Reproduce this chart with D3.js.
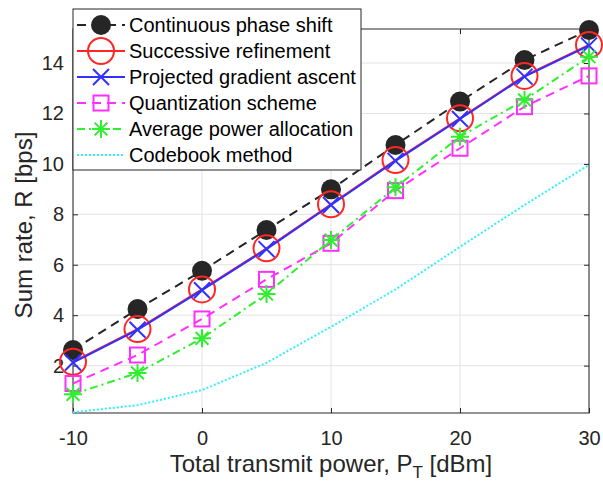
<!DOCTYPE html>
<html>
<head>
<meta charset="utf-8">
<script src="https://cdn.jsdelivr.net/npm/d3@7"></script>
<style>
  body { margin: 0; background: #fff; }
  svg { font-family: "Liberation Sans", Arial, sans-serif; }
</style>
</head>
<body>
<svg id="chart" width="603" height="482"></svg>
<script>
// data
var powerDbm = [-10, -5, 0, 5, 10, 15, 20, 25, 30];
var continuousPhase = [2.62, 4.24, 5.76, 7.38, 8.99, 10.75, 12.47, 14.12, 15.31];
var successiveRefinement = [2.15, 3.45, 5.02, 6.65, 8.40, 10.15, 11.81, 13.49, 14.72];
var projectedGradient = [2.12, 3.42, 4.99, 6.62, 8.37, 10.12, 11.78, 13.46, 14.69];
var quantizationScheme = [1.29, 2.42, 3.85, 5.42, 6.85, 8.94, 10.62, 12.27, 13.49];
var averagePower = [0.86, 1.71, 3.08, 4.84, 6.98, 9.07, 11.08, 12.54, 14.25];
var codebookMethod = [0.15, 0.43, 1.03, 2.11, 3.54, 5.02, 6.71, 8.37, 9.96];

var xTicks = [-10, 0, 10, 20, 30];
var yTicks = [2, 4, 6, 8, 10, 12, 14];

var seriesNames = ["Continuous phase shift", "Successive refinement", "Projected gradient ascent",
    "Quantization scheme", "Average power allocation", "Codebook method"];

var series = [
    {name: seriesNames[0], values: continuousPhase, color: "#262626", dash: "9,6", marker: "dot"},
    {name: seriesNames[1], values: successiveRefinement, color: "#ff2626", dash: null, marker: "circle"},
    {name: seriesNames[2], values: projectedGradient, color: "#3030ff", dash: null, marker: "x"},
    {name: seriesNames[3], values: quantizationScheme, color: "#ff30ff", dash: "9,6", marker: "square"},
    {name: seriesNames[4], values: averagePower, color: "#30ee30", dash: "8,4,2,4", marker: "star"},
    {name: seriesNames[5], values: codebookMethod, color: "#30f0ff", dash: "2,2", marker: null}
];

var svg = d3.select("#chart");
var margin = {top: 29, right: 14, bottom: 69, left: 73};
var width = 603 - margin.left - margin.right;
var height = 482 - margin.top - margin.bottom;
var axisColor = "#262626";

var x = d3.scaleLinear().domain([-10, 30]).range([0, width]);
var y = d3.scaleLinear().domain([0.12, 15.35]).range([height, 0]);

var g = svg.append("g").attr("transform", "translate(" + margin.left + "," + margin.top + ")");

// grid
g.selectAll(".vgrid").data(xTicks).enter().append("line")
    .attr("x1", d => x(d)).attr("x2", d => x(d))
    .attr("y1", 0).attr("y2", height)
    .attr("stroke", "#e3e3e3").attr("stroke-width", 1);
g.selectAll(".hgrid").data(yTicks).enter().append("line")
    .attr("x1", 0).attr("x2", width)
    .attr("y1", d => y(d)).attr("y2", d => y(d))
    .attr("stroke", "#e3e3e3").attr("stroke-width", 1);

// axes (ticks inside, MATLAB style)
function styleAxis(sel) {
    sel.select(".domain").remove();
    sel.selectAll(".tick line").attr("stroke", axisColor);
    sel.selectAll(".tick text").attr("fill", axisColor).style("font-size", "20px");
}
var plainFmt = d => String(d); // hyphen minus like the original
g.append("g").attr("transform", "translate(0," + height + ")")
    .call(d3.axisBottom(x).tickValues(xTicks).tickSizeInner(-5).tickPadding(18).tickFormat(plainFmt))
    .call(styleAxis);
g.append("g")
    .call(d3.axisTop(x).tickValues(xTicks).tickSizeInner(-5).tickFormat(""))
    .call(styleAxis);
g.append("g")
    .call(d3.axisLeft(y).tickValues(yTicks).tickSizeInner(-5).tickPadding(9).tickFormat(plainFmt))
    .call(styleAxis);
g.append("g").attr("transform", "translate(" + width + ",0)")
    .call(d3.axisRight(y).tickValues(yTicks).tickSizeInner(-5).tickFormat(""))
    .call(styleAxis);

g.append("rect").attr("width", width).attr("height", height)
    .attr("fill", "none").attr("stroke", axisColor).attr("stroke-width", 1);

function drawMarker(sel, type, color) {
    if (type === "dot") {
        sel.append("circle").attr("r", 10).attr("fill", color);
    } else if (type === "circle") {
        sel.append("circle").attr("r", 13).attr("fill", "none").attr("stroke", color).attr("stroke-width", 2);
    } else if (type === "x") {
        sel.append("path").attr("d", "M-8,-8L8,8M-8,8L8,-8").attr("stroke", color).attr("stroke-width", 2);
    } else if (type === "square") {
        sel.append("rect").attr("x", -7.5).attr("y", -7.5).attr("width", 15).attr("height", 15)
            .attr("fill", "none").attr("stroke", color).attr("stroke-width", 2);
    } else if (type === "star") {
        sel.append("path")
            .attr("d", "M-9,0L9,0M0,-9L0,9M-6.4,-6.4L6.4,6.4M-6.4,6.4L6.4,-6.4")
            .attr("stroke", color).attr("stroke-width", 2);
    }
}

var line = d3.line().x((d, i) => x(powerDbm[i])).y(d => y(d));

series.forEach(function (s) {
    var sg = g.append("g");
    sg.append("path").datum(s.values)
        .attr("d", line)
        .attr("fill", "none")
        .attr("stroke", s.color)
        .attr("stroke-width", 2)
        .attr("stroke-dasharray", s.dash);
    if (s.marker) {
        sg.selectAll(".mk").data(s.values).enter().append("g")
            .attr("transform", (d, i) => "translate(" + x(powerDbm[i]) + "," + y(d) + ")")
            .each(function () { drawMarker(d3.select(this), s.marker, s.color); });
    }
});

// legend
var legend = svg.append("g").attr("transform", "translate(73,9)");
legend.append("rect").attr("width", 288).attr("height", 161)
    .attr("fill", "#fff").attr("stroke", axisColor).attr("stroke-width", 1);
series.forEach(function (s, i) {
    var row = legend.append("g").attr("transform", "translate(0," + (16 + i * 26) + ")");
    row.append("line").attr("x1", 4).attr("x2", 52)
        .attr("stroke", s.color).attr("stroke-width", 2)
        .attr("stroke-dasharray", s.dash);
    if (s.marker) {
        var m = row.append("g").attr("transform", "translate(28,0)");
        drawMarker(m, s.marker, s.color);
    }
    row.append("text").attr("x", 56).attr("y", 0).attr("dy", "0.35em")
        .attr("fill", "#000").style("font-size", "20px").text(s.name);
});

// axis labels
var xLabel = svg.append("text")
    .attr("x", margin.left + width / 2).attr("y", 472)
    .attr("text-anchor", "middle").attr("fill", axisColor).style("font-size", "24px");
xLabel.append("tspan").text("Total transmit power, P");
xLabel.append("tspan").attr("dy", 6).style("font-size", "17px").text("T");
xLabel.append("tspan").attr("dy", -6).text(" [dBm]");

svg.append("text")
    .attr("transform", "translate(32," + 225 + ") rotate(-90)")
    .attr("text-anchor", "middle").attr("fill", axisColor).style("font-size", "24px")
    .text("Sum rate, R [bps]");
</script>
</body>
</html>
